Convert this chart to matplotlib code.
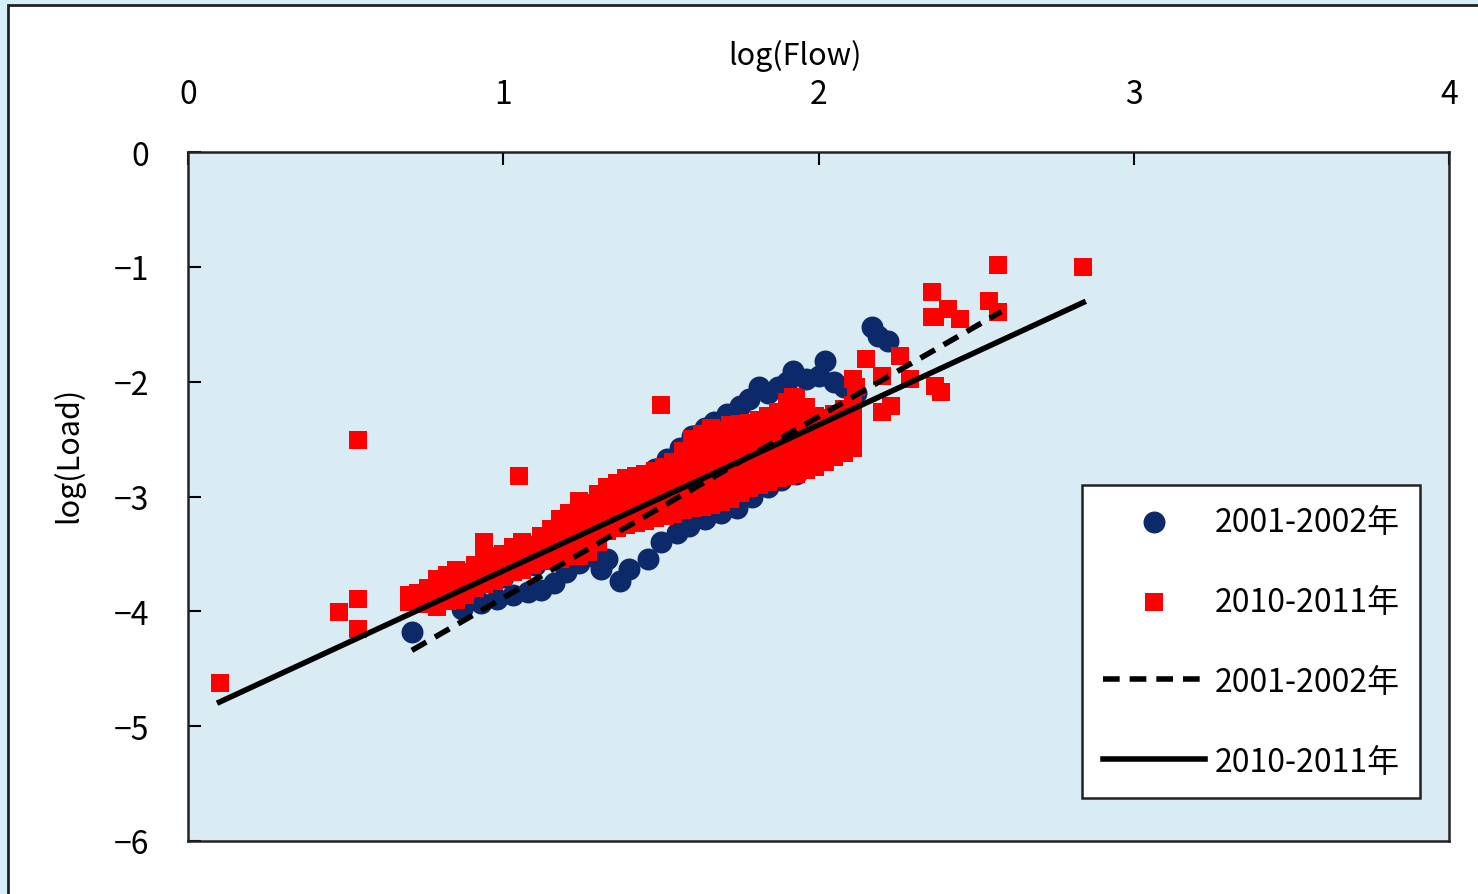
import numpy as np
import matplotlib
matplotlib.use("Agg")
from matplotlib import pyplot as plt
from matplotlib.patches import Rectangle

plt.rcParams['font.family'] = ['Noto Sans CJK JP', 'DejaVu Sans']

# %% data (log(Flow), log(Load))
# 2001-2002: upper edge of the blue cloud
blue_top_x = [1.30, 1.34, 1.37, 1.40, 1.44, 1.48, 1.52, 1.56, 1.60, 1.64, 1.67, 1.71,
              1.75, 1.78, 1.81, 1.84, 1.87, 1.90, 1.92, 1.96, 2.00, 2.02, 2.05, 2.08,
              2.12, 2.17, 2.19, 2.22]
blue_top_y = [-3.14, -3.05, -2.98, -2.90, -2.82, -2.76, -2.67, -2.58, -2.47, -2.40, -2.35, -2.28,
              -2.21, -2.15, -2.05, -2.10, -2.05, -2.00, -1.91, -1.98, -1.95, -1.82, -2.00, -2.05,
              -2.10, -1.52, -1.60, -1.65]
# 2001-2002: lower edge of the blue cloud
blue_bot_x = [0.71, 0.87, 0.93, 0.98, 1.03, 1.08, 1.12, 1.16, 1.20, 1.24, 1.28, 1.31,
              1.33, 1.37, 1.40, 1.46, 1.50, 1.55, 1.59, 1.64, 1.69, 1.74, 1.79, 1.84,
              1.88, 1.93, 1.97, 2.01, 2.05]
blue_bot_y = [-4.18, -3.98, -3.93, -3.89, -3.86, -3.83, -3.81, -3.75, -3.66, -3.58, -3.52, -3.63,
              -3.54, -3.74, -3.63, -3.54, -3.40, -3.32, -3.26, -3.20, -3.14, -3.10, -3.00, -2.92,
              -2.86, -2.80, -2.72, -2.64, -2.56]
# 2001-2002: points inside the cloud (mostly under the red squares)
blue_mid_x = [1.00, 1.10, 1.20, 1.30, 1.40, 1.50, 1.60, 1.70, 1.76, 1.80, 1.90, 2.00, 2.10]
blue_mid_y = [-3.70, -3.60, -3.45, -3.30, -3.15, -3.00, -2.90, -2.75, -2.60, -2.65, -2.50, -2.40, -2.35]

# 2010-2011: the dense band, one column every 0.03
red_col_x = [0.70, 0.73, 0.76, 0.79, 0.82, 0.85, 0.88, 0.91, 0.94, 0.97, 1.00, 1.03,
             1.06, 1.09, 1.12, 1.15, 1.18, 1.21, 1.24, 1.27, 1.30, 1.33, 1.36, 1.39,
             1.42, 1.45, 1.48, 1.51, 1.54, 1.57, 1.60, 1.63, 1.66, 1.69, 1.72, 1.75,
             1.78, 1.81, 1.84, 1.87, 1.90, 1.93, 1.96, 1.99, 2.02, 2.05, 2.08, 2.11]
red_top_y = [-3.86, -3.84, -3.80, -3.72, -3.68, -3.64, -3.66, -3.60, -3.40, -3.52, -3.50, -3.44,
             -3.40, -3.42, -3.34, -3.28, -3.20, -3.14, -3.04, -3.06, -2.98, -2.92, -2.88, -2.84,
             -2.82, -2.80, -2.78, -2.74, -2.70, -2.60, -2.50, -2.46, -2.40, -2.42, -2.38, -2.37,
             -2.36, -2.33, -2.30, -2.26, -2.18, -2.14, -2.22, -2.30, -2.32, -2.28, -2.24, -2.20]
red_upmid_y = [-3.88, -3.87, -3.85, -3.80, -3.76, -3.73, -3.73, -3.67, -3.52, -3.59, -3.57, -3.51,
               -3.48, -3.48, -3.41, -3.37, -3.31, -3.27, -3.20, -3.20, -3.12, -3.05, -3.01, -2.98,
               -2.96, -2.94, -2.92, -2.88, -2.85, -2.77, -2.70, -2.67, -2.62, -2.63, -2.59, -2.57,
               -2.55, -2.52, -2.49, -2.45, -2.39, -2.36, -2.40, -2.45, -2.45, -2.41, -2.37, -2.33]
red_lowmid_y = [-3.90, -3.90, -3.89, -3.88, -3.83, -3.81, -3.79, -3.73, -3.64, -3.67, -3.63, -3.59,
                -3.56, -3.54, -3.49, -3.45, -3.43, -3.39, -3.36, -3.34, -3.26, -3.17, -3.14, -3.11,
                -3.09, -3.07, -3.05, -3.03, -3.00, -2.95, -2.90, -2.88, -2.85, -2.84, -2.81, -2.77,
                -2.74, -2.71, -2.68, -2.65, -2.61, -2.58, -2.59, -2.59, -2.57, -2.53, -2.49, -2.45]
red_bot_y = [-3.92, -3.93, -3.94, -3.96, -3.91, -3.90, -3.86, -3.80, -3.76, -3.74, -3.70, -3.66,
             -3.64, -3.60, -3.56, -3.54, -3.54, -3.52, -3.52, -3.48, -3.40, -3.30, -3.27, -3.25,
             -3.23, -3.21, -3.19, -3.17, -3.15, -3.12, -3.10, -3.09, -3.07, -3.05, -3.02, -2.97,
             -2.93, -2.90, -2.87, -2.84, -2.82, -2.80, -2.77, -2.74, -2.70, -2.66, -2.62, -2.58]
# 2010-2011: extra rows where the band is widest (x from 1.15 on)
red_wide_x = [1.15, 1.18, 1.21, 1.24, 1.27, 1.30, 1.33, 1.36, 1.39, 1.42, 1.45, 1.48,
              1.51, 1.54, 1.57, 1.60, 1.63, 1.66, 1.69, 1.72, 1.75, 1.78, 1.81, 1.84,
              1.87, 1.90, 1.93, 1.96, 1.99, 2.02, 2.05, 2.08, 2.11]
red_wide_a_y = [-3.32, -3.26, -3.20, -3.12, -3.13, -3.05, -2.98, -2.94, -2.91, -2.89, -2.87, -2.85,
                -2.81, -2.78, -2.69, -2.60, -2.56, -2.51, -2.52, -2.48, -2.47, -2.45, -2.42, -2.40,
                -2.35, -2.28, -2.25, -2.31, -2.37, -2.38, -2.34, -2.30, -2.26]
red_wide_b_y = [-3.41, -3.37, -3.33, -3.28, -3.27, -3.19, -3.11, -3.08, -3.05, -3.03, -3.01, -2.99,
                -2.96, -2.93, -2.86, -2.80, -2.78, -2.74, -2.74, -2.70, -2.67, -2.65, -2.62, -2.59,
                -2.55, -2.50, -2.47, -2.50, -2.52, -2.51, -2.47, -2.43, -2.39]
red_wide_c_y = [-3.50, -3.49, -3.46, -3.44, -3.41, -3.33, -3.24, -3.21, -3.18, -3.16, -3.14, -3.12,
                -3.10, -3.08, -3.04, -3.00, -2.99, -2.96, -2.95, -2.92, -2.87, -2.84, -2.81, -2.78,
                -2.75, -2.72, -2.69, -2.68, -2.67, -2.64, -2.60, -2.56, -2.52]
# 2010-2011: scattered points outside the band
red_out_x = [0.10, 0.48, 0.54, 0.54, 0.54, 1.05, 1.50, 1.92,
             2.15, 2.26, 2.11, 2.20, 2.07, 2.37, 2.20, 2.39, 2.23, 2.29, 2.12, 2.36,
             2.37, 2.41, 2.36, 2.45, 2.54, 2.57, 2.57, 2.84]
red_out_y = [-4.62, -4.01, -3.89, -4.15, -2.51, -2.82, -2.20, -2.13,
             -1.80, -1.78, -1.98, -2.26, -2.56, -2.04, -1.95, -2.09, -2.21, -1.98, -2.05, -1.22,
             -1.44, -1.37, -1.44, -1.45, -1.30, -1.39, -0.98, -1.00]

# regression lines (end points)
fit_0102_x = [0.71, 2.58]
fit_0102_y = [-4.34, -1.39]
fit_1011_x = [0.10, 2.84]
fit_1011_y = [-4.79, -1.31]

labels = ["2001-2002年", "2010-2011年", "2001-2002年", "2010-2011年"]

blue_x = blue_mid_x + blue_bot_x + blue_top_x
blue_y = blue_mid_y + blue_bot_y + blue_top_y
red_x = red_col_x * 4 + red_wide_x * 3 + red_out_x
red_y = (red_top_y + red_upmid_y + red_lowmid_y + red_bot_y
         + red_wide_a_y + red_wide_b_y + red_wide_c_y + red_out_y)

# %%
fig = plt.figure(figsize=(14.78, 8.95), dpi=100, facecolor="#d6eef6")
fig.patches.append(Rectangle((8 / 1478, -0.01), 1.0, 1 - 6 / 895 + 0.01,
                             transform=fig.transFigure, facecolor="white",
                             edgecolor="#222222", linewidth=2, zorder=-10))

ax = fig.add_axes([188 / 1478, 1 - 842 / 895, (1449 - 188) / 1478, (842 - 153) / 895])
ax.set_zorder(1)
ax.set_facecolor("#daecf3")

ax.scatter(blue_x, blue_y, s=250, marker="o", color="#0c2a6a", linewidths=0,
           label=labels[0], zorder=2)
ax.scatter(red_x, red_y, s=150, marker="s", color="#ff0000", linewidths=0,
           label=labels[1], zorder=3)
ax.plot(fit_0102_x, fit_0102_y, color="black", lw=4, ls=(0, (3, 1.8)), label=labels[2], zorder=4)
ax.plot(fit_1011_x, fit_1011_y, color="black", lw=4, label=labels[3], zorder=4)

ax.set_xlim(0, 4)
ax.set_ylim(-6, 0)
ax.xaxis.tick_top()
ax.xaxis.set_label_position("top")
ax.set_xticks([0, 1, 2, 3, 4])
ax.set_yticks([0, -1, -2, -3, -4, -5, -6])
ax.tick_params(axis="x", direction="in", length=9, width=1.5, pad=30, labelsize=23,
               top=True, bottom=False)
ax.tick_params(axis="y", direction="in", length=9, width=1.5, pad=28, labelsize=23,
               left=True, right=False)
for sp in ax.spines.values():
    sp.set_linewidth(1.8)
    sp.set_color("#222222")

ax.set_xlabel("log(Flow)", fontsize=22)
ax.set_ylabel("log(Load)", fontsize=22)
ax.xaxis.set_label_coords(0.481, 1.128)
ax.yaxis.set_label_coords(-0.082, 0.562)

leg = ax.legend(loc="upper left", bbox_to_anchor=(1082 / 1478, 1 - 486 / 895),
                bbox_transform=fig.transFigure, borderaxespad=0, fontsize=23,
                fancybox=False, framealpha=1, edgecolor="#222222",
                handlelength=3.2, handletextpad=0.3, labelspacing=1.5,
                borderpad=0.65, scatterpoints=1)
leg.get_frame().set_linewidth(1.8)

fig.savefig("out.png", dpi=100)
